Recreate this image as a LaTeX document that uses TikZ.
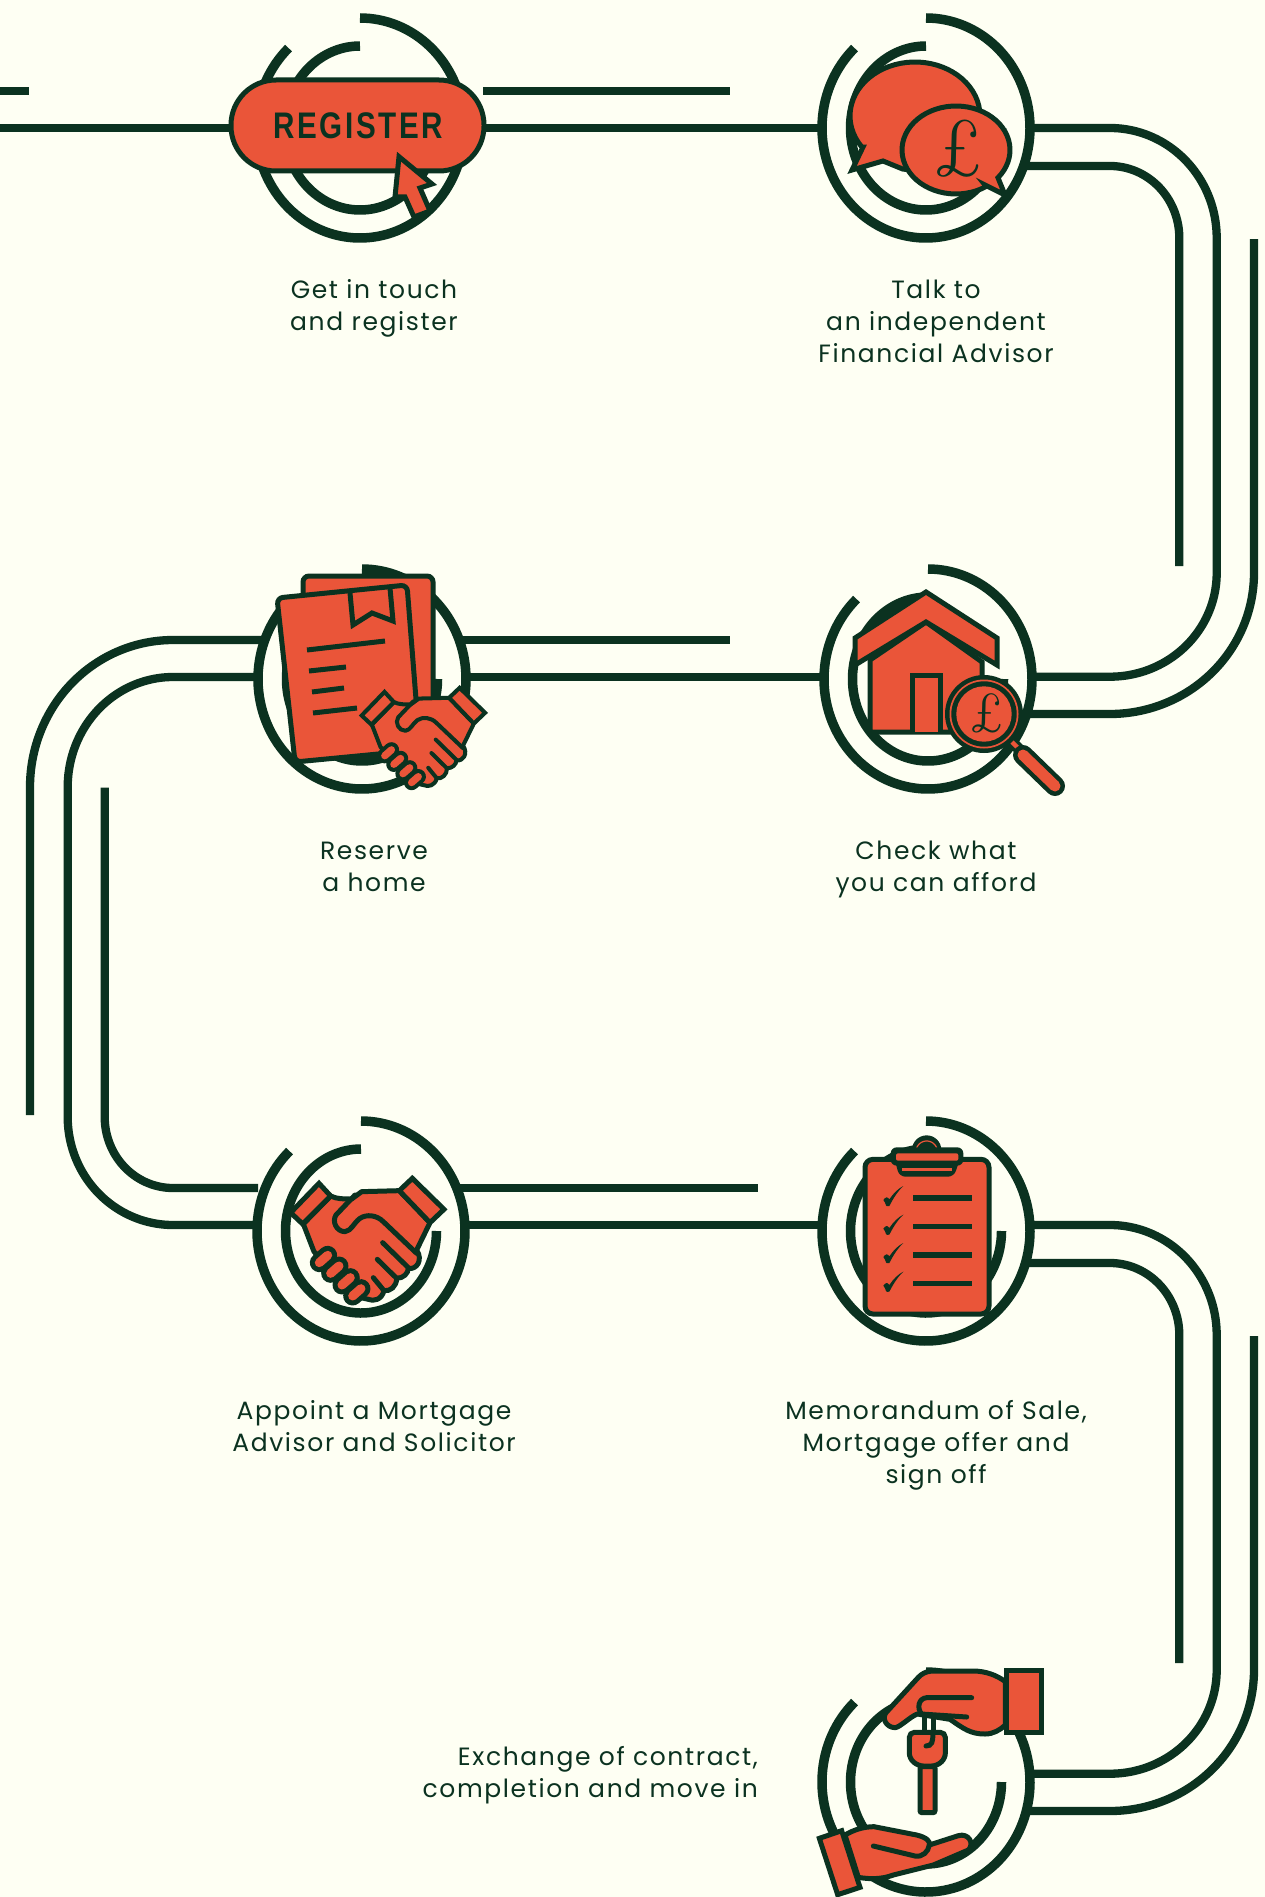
\documentclass[tikz,border=0pt]{standalone}
\usepackage{fontspec}
\setmainfont{Poppins}[LetterSpace=6.5]
\newfontfamily\regfont{Liberation Sans}[LetterSpace=9,Scale=1]
\definecolor{ink}{HTML}{0B3220}
\definecolor{brick}{HTML}{EA5539}
\definecolor{paper}{HTML}{FEFFF3}
\newcommand{\earcm}[6]{plot[domain=#5:#6,samples=120,variable=\t]({#1+#3*cos(\t)},{#2+#4*sin(\t)})}
\newcommand{\earcl}[6]{--plot[domain=#5:#6,samples=60,variable=\t]({#1+#3*cos(\t)},{#2+#4*sin(\t)})}
\newcommand{\pound}[3]{\node[text=ink,inner sep=0pt,xslant=-0.22] at (#1,#2) {\fontsize{#3}{#3}\usefont{TU}{lmr}{m}{it}£};}
\tikzset{
  track/.style={draw=ink,line width=8.3pt},
  ring/.style={draw=ink,line width=9.5pt},
  ico/.style={draw=ink,fill=brick,line width=5pt,line join=miter},
  icol/.style={draw=ink,line width=5pt},
  lbl/.style={text=ink,align=center,font=\fontsize{25}{32}\selectfont,inner sep=0pt},
}
% ring pair around a centre (cx, cy)
\newcommand{\rings}[2]{
  \draw[ring] \earcm{#1}{#2}{104}{110}{-90}{226.6};
  \draw[ring] \earcm{#1}{#2}{75.5}{82}{0}{270};
}
% handshake, drawn in a 3x zoomed frame; #1=shift x,#2=shift y,#3=scale
\newcommand{\handshake}[3]{
\begin{scope}[shift={(#1,#2)},scale=#3]
  \pgfmathsetmacro\lw{5*#3*3}
  \draw[ico,line width=\lw pt,line join=round] (190,372) -- (222,455) -- (350,590) -- (385,598)
     .. controls (400,605) and (425,600) .. (432,572)
     .. controls (450,575) and (470,560) .. (470,535)
     .. controls (490,535) and (505,520) .. (505,505)
     .. controls (530,510) and (550,480) .. (530,450)
     -- (570,368) -- (478,272) -- (365,275) -- (335,297)
     .. controls (310,297) and (290,297) .. (272,288) -- cycle;
  \draw[icol,line width=\lw pt,line cap=round,line join=round]
     (345,285) -- (288,345) .. controls (275,365) and (290,395) .. (315,395)
     .. controls (335,392) and (340,370) .. (360,355)
     .. controls (380,342) and (410,345) .. (430,365) -- (530,460);
  \draw[icol,line width=\lw pt,line cap=round] (428,428) -- (505,503);
  \draw[icol,line width=\lw pt,line cap=round] (412,478) -- (470,535);
  \draw[icol,line width=\lw pt,line cap=round] (400,533) -- (432,572);
  \draw[ico,line width=\lw pt] (237,250) -- (272,288) -- (188,372) -- (152,338) -- cycle;
  \draw[ico,line width=\lw pt] (517,235) -- (612,328) -- (570,368) -- (478,272) -- cycle;
  \foreach \ax/\ay/\bx/\by in {238/488/263/466, 272/520/297/498, 306/555/331/533, 338/588/363/566}{
    \pgfmathsetmacro\dw{19*#3*3}
    \pgfmathsetmacro\ow{9*#3*3}
    \draw[ink,line width=\dw pt,line cap=round] (\ax,\ay) -- (\bx,\by);
    \draw[brick,line width=\ow pt,line cap=round] (\ax,\ay) -- (\bx,\by);
  }
\end{scope}
}
\begin{document}
\begin{tikzpicture}[x=1pt,y=-1pt]
\useasboundingbox (0,0) rectangle (1265,1897);
\fill[paper] (0,0) rectangle (1265,1897);
\coordinate (c1) at (360,128);
\coordinate (c2) at (926,128);
\coordinate (c3) at (928,679);
\coordinate (c4) at (362,679);
\coordinate (c5) at (361,1231);
\coordinate (c6) at (926,1231);
\coordinate (c7) at (926,1782);

% straight tracks
\draw[track] (0,91) -- (29,91);
\draw[track] (0,128) -- (c1);
\draw[track] (c1) -- (c2);
\draw[track] (483,91) -- (730,91);
\draw[track] (462,640) -- (730,640);
\draw[track] (c4 |- 0,677) -- (c3 |- 0,677);
\draw[track] (460,1188) -- (758,1188);
\draw[track] (c5 |- 0,1225) -- (c6 |- 0,1225);

% right-hand bends
\foreach \dy in {0,1097}{
\begin{scope}[shift={(0,\dy)}]
  \draw[track] (1030,128) -- (1110,128) \earcl{1110}{238}{106.7}{110}{-90}{0} -- (1216.7,573) \earcl{1110}{573}{106.7}{103.7}{0}{90} -- (1030,676.7);
  \draw[track] (1020,166) -- (1110,166) \earcl{1110}{238}{69.3}{72}{-90}{0} -- (1179.3,566);
  \draw[track] (1254,239) -- (1254,573) \earcl{1110}{573}{144}{141}{0}{90} -- (1022,714);
\end{scope}
}
% left-hand bends
\draw[track] (30,1115) -- (30,787) \earcl{173}{787}{143}{147}{180}{270} -- (265,640);
\draw[track] (256,1225) -- (173,1225) \earcl{173}{1117}{105.3}{108}{90}{180} -- (67.7,787) \earcl{173}{787}{105.3}{110}{180}{270} -- (256,677);
\draw[track] (258,1188) -- (173,1188) \earcl{173}{1117}{68.3}{71}{90}{180} -- (104.7,787.7);

% paper inside rings so straight tracks stop at the ring
\foreach \c in {c1,c2,c3,c4,c5,c6,c7}{
  \fill[paper] (\c) ellipse [x radius=104, y radius=110];
}

% rings
\rings{360}{128}
\rings{926}{128}
\rings{928}{679}
\rings{362}{679}
\rings{361}{1231}
\rings{926}{1231}
\rings{926}{1782}

% --- 1 register
\draw[ico,rounded corners=45] (231,80) rectangle (484,171);
\node[text=ink,inner sep=0pt,xscale=0.8] (regtext) at (358,125.5) {\fontsize{37}{37}\regfont\bfseries REGISTER};
\draw[ico] (399,156.7) -- (432,184) -- (420,188) -- (430,211) -- (414,217) -- (405,197) -- (395,197) -- cycle;

% --- 2 speech bubbles
\draw[ico] (863,147) \earcl{915}{116}{65}{54}{145}{461} -- (883,161) -- (852,170) -- cycle;
\draw[ico] (985,185) \earcl{956}{150}{54}{44}{56}{399} -- (1005,195) -- cycle;
\pound{956}{149}{80}

% --- 3 house and magnifier
\draw[ico] (870,660) -- (870,732) -- (982,732) -- (982,662) -- (926,622) -- cycle;
\draw[ico] (912,732) -- (912,675) -- (940,675) -- (940,732);
\draw[ico] (926,592) -- (997,638) -- (997,665) -- (926,622) -- (855,665) -- (855,638) -- cycle;
\draw[ink,line width=11pt] (1005,735) -- (1025,755);
\draw[brick,line width=4.5pt] (1012,742) -- (1019,749);
\draw[ink,line width=20pt,line cap=round] (1023,755) -- (1055,786);
\draw[brick,line width=11pt,line cap=round] (1023,755) -- (1055,786);
\fill[ink] (984,714) circle [radius=39];
\fill[brick] (984,714) circle [radius=34.5];
\fill[ink] (984,714) circle [radius=32.7];
\fill[brick] (984,714) circle [radius=27.7];
\pound{985}{713}{55}

% --- 4 documents and handshake
\draw[ico,rounded corners=6] (303,700) -- (303,576) -- (433,576) -- (433,700);
\fill[brick] (308,600) rectangle (428,698);
\draw[ico,rounded corners=6] (277,598) -- (407,585) -- (420,750) -- (295,762) -- cycle;
\draw[icol] (350,593) -- (353,625) -- (372,613) -- (393,621) -- (390,588);
\draw[icol] (307,650) -- (385,641);
\draw[icol] (309,671) -- (346,667);
\draw[icol] (312,692) -- (344,688);
\draw[icol] (313,713) -- (357,708);
\handshake{320.9}{624.8}{0.2683}

% --- 5 handshake
\handshake{240}{1100}{0.3333}

% --- 6 clipboard
\begin{scope}[shift={(800,1100)},scale=1/3]
  \draw[ico,rounded corners=8] (195,178) rectangle (567,642);
  \fill[ink] (380,150) circle [radius=44];
  \draw[brick,line width=1.2pt] \earcm{380}{155}{32}{32}{180}{360};
  \fill[ink,rounded corners=6] (283,175) -- (298,230) -- (462,230) -- (480,175) -- cycle;
  \fill[brick] (305,205) rectangle (455,213);
  \fill[ink,rounded corners=6] (272,142) rectangle (490,197);
  \fill[brick,rounded corners=2] (288,160) rectangle (475,182);
  \foreach \dy in {0,86,171,257}{
    \begin{scope}[shift={(0,\dy)}]
      \fill[ink] (340,285) rectangle (515,302);
      \fill[ink] (250,300) .. controls (256,292) and (262,288) .. (268,298)
        .. controls (280,280) and (295,265) .. (310,258)
        .. controls (292,275) and (280,295) .. (268,318)
        .. controls (262,320) and (258,318) .. (258,316)
        .. controls (256,310) and (254,304) .. (250,300) -- cycle;
    \end{scope}
  }
\end{scope}

% --- 7 hands and key
\begin{scope}[shift={(800,1640)},scale=1/3]
  \draw[ink,line width=5pt] (372,220) -- (372,280);
  \draw[ink,line width=5pt] (400,220) -- (400,280);
  \draw[ico,rounded corners=2] (360,380) -- (360,518) -- (405,518) -- (405,380) -- cycle;
  \draw[ico,rounded corners=5] (328,277) -- (328,355) -- (355,378) -- (410,378) -- (436,355) -- (436,277) -- cycle;
  \draw[icol,line cap=round] (398,280) .. controls (400,305) and (395,318) .. (378,318);
  \draw[ico,line join=round] (616,125) .. controls (590,105) and (555,93) .. (520,93) -- (395,93)
    .. controls (375,95) and (365,102) .. (355,112) -- (258,218)
    .. controls (245,235) and (258,262) .. (285,263)
    .. controls (300,262) and (330,230) .. (352,222) -- (450,238)
    .. controls (490,265) and (510,282) .. (555,282)
    .. controls (580,282) and (600,270) .. (616,255) -- cycle;
  \draw[icol,line cap=round] (515,173) -- (380,173) .. controls (355,175) and (350,205) .. (365,222) -- (500,231);
  \draw[ico] (618,92) rectangle (725,277);
  \draw[ico,line join=round] (135,585) .. controls (160,570) and (190,560) .. (222,560) -- (350,585)
    .. controls (380,592) and (392,605) .. (388,615) -- (475,587)
    .. controls (505,578) and (525,610) .. (505,630)
    -- (400,675) -- (280,705) .. controls (245,718) and (210,718) .. (175,712) -- cycle;
  \draw[icol,line cap=round] (220,618) -- (345,648) .. controls (368,652) and (385,635) .. (388,615);
  \draw[ico] (58,595) -- (125,572) -- (180,742) -- (113,764) -- cycle;
\end{scope}

% labels
\node[lbl] (l1) at (374,308) {Get in touch\\and register};
\node[lbl] (l2) at (936,321) {Talk to\\an independent\\Financial Advisor};
\node[lbl] (l3) at (936,869) {Check what\\you can afford};
\node[lbl] (l4) at (374,867) {Reserve\\a home};
\node[lbl] (l5) at (374,1426) {Appoint a Mortgage\\Advisor and Solicitor};
\node[lbl] (l6) at (936,1445) {Memorandum of Sale,\\Mortgage offer and\\sign off};
\node[lbl,align=right,anchor=east] (l7) at (758,1775) {Exchange of contract,\\completion and move in};
\end{tikzpicture}
\end{document}
